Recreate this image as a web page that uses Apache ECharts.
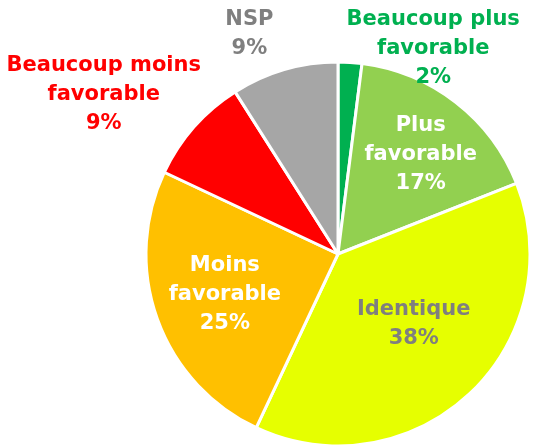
<!DOCTYPE html>
<html>
<head>
<meta charset="utf-8">
<script src="https://cdn.jsdelivr.net/npm/echarts@6/dist/echarts.min.js"></script>
<style>
html, body { margin: 0; padding: 0; background: #fff; }
#chart { width: 542px; height: 448px; }
</style>
</head>
<body>
<div id="chart"></div>
<script>
// categories, clockwise from the top
var categories = ['Beaucoup plus\nfavorable', 'Plus\nfavorable', 'Identique', 'Moins\nfavorable', 'Beaucoup moins\nfavorable', 'NSP'];
var values = [2, 17, 38, 25, 9, 9];
var colors = ['#00b050', '#92d050', '#e6ff00', '#ffc000', '#ff0000', '#a6a6a6'];
var labelColors = ['#00b050', '#ffffff', '#7f7f7f', '#ffffff', '#ff0000', '#7f7f7f'];
var labelOffsets = [[89, -107], [22, -21], [8, -2], [-20, 7], [-160, -94], [-61, -125]];

var mychart = echarts.init(document.getElementById('chart'));

var pieData = [];
for (var i = 0; i < categories.length; i++) {
	pieData.push({
		name: categories[i],
		value: values[i],
		itemStyle: { color: colors[i] },
		label: { color: labelColors[i], offset: labelOffsets[i] }
	});
}

var option = {
	animation: false,
	series: [
		{
			type: 'pie',
			center: [338, 254],
			radius: 192,
			startAngle: 90,
			clockwise: true,
			avoidLabelOverlap: false,
			itemStyle: { borderColor: '#ffffff', borderWidth: 3 },
			label: {
				show: true,
				position: 'inside',
				formatter: '{b}\n{c}%',
				fontFamily: 'DejaVu Sans',
				fontWeight: 'bold',
				fontSize: 21,
				lineHeight: 29,
				align: 'center'
			},
			labelLine: { show: false },
			data: pieData
		}
	]
};

mychart.setOption(option);
</script>
</body>
</html>
